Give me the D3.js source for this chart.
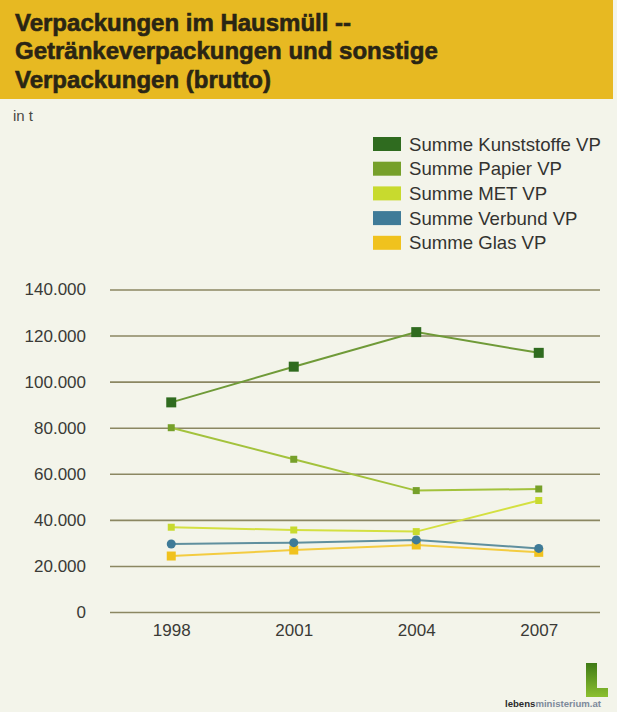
<!DOCTYPE html>
<html>
<head>
<meta charset="utf-8">
<script src="https://cdn.jsdelivr.net/npm/d3@7"></script>
<style>
  html, body { margin: 0; padding: 0; background: #f3f4ea; }
  svg { display: block; font-family: "Liberation Sans", Arial, sans-serif; }
</style>
</head>
<body>
<svg id="chart" width="617" height="712"></svg>
<script>
// Chart data (tonnes per year)
const titleLines = [
  "Verpackungen im Hausmüll --",
  "Getränkeverpackungen und sonstige",
  "Verpackungen (brutto)"
];
const unitLabel = "in t";
const years = ["1998", "2001", "2004", "2007"];
const seriesNames = [
  "Summe Kunststoffe VP",
  "Summe Papier VP",
  "Summe MET VP",
  "Summe Verbund VP",
  "Summe Glas VP"
];
const kunststoffe = [91000, 106500, 121500, 112500];
const papier      = [80000, 66300, 52700, 53400];
const met         = [36800, 35600, 34900, 48400];
const verbund     = [29500, 30100, 31300, 27600];
const glas        = [24300, 26900, 29100, 25900];
const yTicks = [0, 20000, 40000, 60000, 80000, 100000, 120000, 140000];
const seriesColors = ["#2f6b1f", "#76a02a", "#c8da2e", "#3f7b98", "#f0c21e"];
const lineColors   = ["#6f9a38", "#a3c23c", "#d4e040", "#5f8f9e", "#f3cc40"];
const markerShapes = ["square", "square", "square", "circle", "square"];
const markerSizes  = [10, 7, 7, 9, 9];

const seriesValues = [kunststoffe, papier, met, verbund, glas];
const series = seriesNames.map((name, i) => ({
  name, color: seriesColors[i], lineColor: lineColors[i],
  shape: markerShapes[i], size: markerSizes[i], values: seriesValues[i]
}));

const de = d3.formatLocale({ decimal: ",", thousands: ".", grouping: [3], currency: ["", " €"] });
const fmt = de.format(",d");

const svg = d3.select("#chart");

// Header band
svg.append("rect").attr("x", 0).attr("y", 0).attr("width", 613).attr("height", 99)
  .attr("fill", "#e7b922");
svg.append("g").selectAll("text").data(titleLines).join("text")
  .attr("x", 15).attr("y", (d, i) => 31 + i * 28.3)
  .attr("font-size", 24).attr("font-weight", "bold").attr("fill", "#2a2514")
  .attr("stroke", "#2a2514").attr("stroke-width", 0.6)
  .text(d => d);

svg.append("text").attr("x", 13).attr("y", 121).attr("font-size", 15)
  .attr("fill", "#4a4a44").text(unitLabel);

// Scales
const x = d3.scalePoint().domain(years).range([110, 600]).padding(0.5);
const y = d3.scaleLinear().domain([0, 140000]).range([612, 289.5]);

// Y axis with gridlines
const yAxis = svg.append("g").attr("transform", "translate(110,0)")
  .call(d3.axisLeft(y).tickValues(yTicks).tickFormat(fmt).tickSize(-490).tickPadding(24));
yAxis.select(".domain").remove();
yAxis.selectAll(".tick line").attr("stroke", "#8b8762").attr("stroke-width", 1.6);
yAxis.selectAll(".tick text").attr("font-size", 17).attr("fill", "#3a3a36")
  .attr("font-family", "Liberation Sans, Arial, sans-serif");

// X axis labels
const xAxis = svg.append("g").attr("transform", "translate(0,612)")
  .call(d3.axisBottom(x).tickSize(0).tickPadding(12));
xAxis.select(".domain").remove();
xAxis.selectAll(".tick text").attr("font-size", 17).attr("fill", "#3a3a36")
  .attr("font-family", "Liberation Sans, Arial, sans-serif");

// Lines and markers (bottom series first so the upper series sit above)
const line = d3.line().x((d, i) => x(years[i])).y(d => y(d));
const seriesG = svg.append("g").selectAll("g").data(series.slice().reverse()).join("g");
seriesG.append("path")
  .attr("d", d => line(d.values))
  .attr("fill", "none").attr("stroke", d => d.lineColor)
  .attr("stroke-width", 2);
seriesG.selectAll("path.marker")
  .data(d => d.values.map((v, i) => ({ v, i, s: d })))
  .join("path").attr("class", "marker")
  .attr("transform", d => `translate(${x(years[d.i])},${y(d.v)})`)
  .attr("d", d => d3.symbol(d.s.shape === "circle" ? d3.symbolCircle : d3.symbolSquare,
                            d.s.shape === "circle" ? Math.PI * (d.s.size / 2) ** 2 : d.s.size ** 2)())
  .attr("fill", d => d.s.color);

// Legend
const legend = svg.append("g").selectAll("g").data(series).join("g")
  .attr("transform", (d, i) => `translate(373,${137 + i * 24.7})`);
legend.append("rect").attr("width", 28).attr("height", 14).attr("fill", d => d.color);
legend.append("text").attr("x", 36).attr("y", 13.5).attr("font-size", 18.6)
  .attr("fill", "#333330").text(d => d.name);

// Publisher mark, lower right: green "L" emblem above the web address
const grad = svg.append("defs").append("linearGradient").attr("id", "logoGrad")
  .attr("x1", 0).attr("y1", 0).attr("x2", 0).attr("y2", 1);
grad.append("stop").attr("offset", "0%").attr("stop-color", "#3f7a16");
grad.append("stop").attr("offset", "100%").attr("stop-color", "#8cc030");
const logo = svg.append("g");
logo.append("path")
  .attr("d", "M586,663 L597,663 L597,688 L608,688 L608,697 L586,697 Z")
  .attr("fill", "url(#logoGrad)");
const small = logo.append("text").attr("x", 505).attr("y", 707)
  .attr("font-size", 9.6).attr("font-weight", "bold");
small.append("tspan").attr("fill", "#2a2a2a").text("lebens");
small.append("tspan").attr("fill", "#7d8a9a").text("ministerium.at");
</script>
</body>
</html>
